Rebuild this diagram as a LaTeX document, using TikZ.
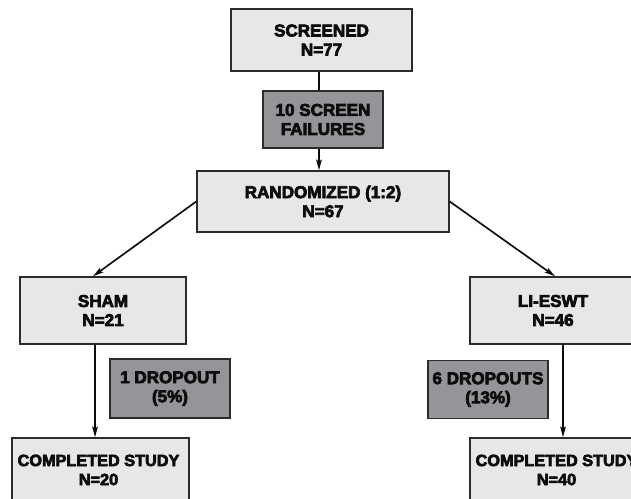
\documentclass[tikz,border=0pt]{standalone}
\usepackage{fontspec}
\setmainfont{Liberation Sans}[BoldFeatures={FakeBold=4}]
\usetikzlibrary{arrows.meta}
\definecolor{lightbox}{HTML}{E6E7E8}
\definecolor{darkbox}{HTML}{939598}
\definecolor{edge}{HTML}{2B2B2B}
\definecolor{ink}{HTML}{0D0D0D}
\tikzset{
  boxbase/.style={draw=edge, line width=1.1pt, align=center, inner sep=0pt,
    font=\bfseries\fontsize{12.8pt}{14.3pt}\selectfont, text=ink},
  lightnode/.style={boxbase, fill=lightbox},
  darknode/.style={boxbase, fill=darkbox},
  smalltext/.style={font=\bfseries\fontsize{12.2pt}{14.3pt}\selectfont},
  arr/.style={draw=ink, line width=1.25pt, -{Stealth[length=8pt,width=4.2pt,inset=1.5pt]}},
  plain/.style={draw=ink, line width=1.25pt}
}
\begin{document}
\begin{tikzpicture}[x=0.75pt,y=-0.75pt]
\useasboundingbox (0,0) rectangle (631,499);
\fill[white] (0,0) rectangle (631,499);
\clip (0,0) rectangle (631,499);
% boxes
\node[lightnode, minimum width=181*0.75pt, minimum height=62*0.75pt] (screened) at (321.5,40) {SCREENED\\N=77};
\node[darknode, minimum width=120*0.75pt, minimum height=57*0.75pt] (fail) at (323,119.5) {10 SCREEN\\FAILURES};
\node[lightnode, minimum width=252*0.75pt, minimum height=61*0.75pt] (rand) at (323,201.5) {RANDOMIZED (1:2)\\N=67};
\node[lightnode, minimum width=166*0.75pt, minimum height=67*0.75pt] (sham) at (103,310.5) {SHAM\\N=21};
\node[lightnode, minimum width=166*0.75pt, minimum height=67*0.75pt] (li) at (553,310.5) {LI-ESWT\\N=46};
\node[darknode, minimum width=120*0.75pt, minimum height=59*0.75pt] (drop1) at (170,388.5) {1 DROPOUT\\(5\%)};
\node[darknode, minimum width=120*0.75pt, minimum height=58*0.75pt] (drop6) at (488,389.5) {6 DROPOUTS\\(13\%)};
\node[lightnode, minimum width=177*0.75pt, minimum height=80*0.75pt] (comp1) at (100.5,478) {};
\node[lightnode, minimum width=177*0.75pt, minimum height=80*0.75pt] (comp2) at (558.5,478) {};
\node[boxbase, smalltext, draw=none] (comp1t) at (98.5,470) {COMPLETED STUDY\\N=20};
\node[boxbase, smalltext, draw=none] (comp2t) at (556.5,470) {COMPLETED STUDY\\N=40};
% connectors
\draw[plain] ([xshift=-1.9pt]screened.south) -- ([xshift=-3pt]fail.north);
\draw[arr] ([xshift=-3pt]fail.south) -- ([xshift=-3pt]rand.north);
\draw[arr] (rand.west) -- ([xshift=-7.5pt]sham.north);
\draw[arr] (rand.east) -- ([xshift=1.5pt]li.north);
\draw[arr] ([xshift=-6pt]sham.south) -- ([xshift=-4.1pt]comp1.north);
\draw[arr] ([xshift=7.5pt]li.south) -- ([xshift=3.4pt]comp2.north);
\end{tikzpicture}
\end{document}
